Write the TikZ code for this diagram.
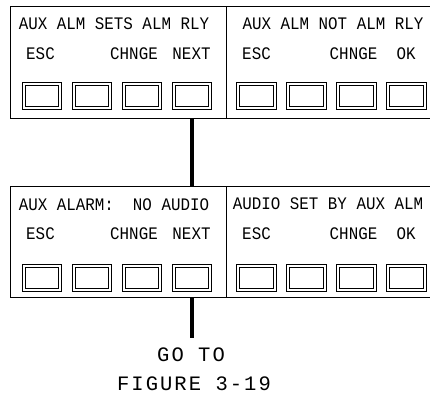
\documentclass[tikz,border=0pt]{standalone}
\usepackage{fontspec}
\setmainfont{Liberation Mono}[FakeStretch=0.9]
\newfontfamily\bigfont{Liberation Mono}[LetterSpace=10]
\begin{document}
\begin{tikzpicture}[x=1pt,y=-1pt,
  panel/.style={draw, line width=1.2pt, inner sep=0pt, anchor=north west,
    minimum width=216.5pt, minimum height=112pt},
  btn/.style={draw, line width=0.7pt, double, double distance=2.3pt,
    inner sep=0pt, minimum width=36.6pt, minimum height=24pt},
  lbl/.style={anchor=base, inner sep=0pt, font=\fontsize{17.6}{17.6}\selectfont},
  big/.style={anchor=base, inner sep=0pt, font=\bigfont\fontsize{20.5}{20.5}\selectfont},
  conn/.style={line width=3.7pt}]
\useasboundingbox (0,0) rectangle (430,402);
% panels
\node[panel] (tl) at (9.5,6) {};
\node[panel, minimum width=212pt] (tr) at (226,6) {};
\node[panel, minimum height=111pt] (bl) at (9.5,186) {};
\node[panel, minimum width=212pt, minimum height=111pt] (br) at (226,186) {};
% buttons
\foreach \i/\x in {1/42,2/92,3/142,4/192}{
  \node[btn] (tlb\i) at (\x,95.8) {};
  \node[btn] (blb\i) at (\x,278.3) {};
}
\foreach \i/\x in {1/256.5,2/306.5,3/356.5,4/406.5}{
  \node[btn] (trb\i) at (\x,95.8) {};
  \node[btn] (brb\i) at (\x,278.3) {};
}
% texts top-left
\node[lbl] (t1) at (114,29.3) {AUX ALM SETS ALM RLY};
\node[lbl] (t1a) at (40.5,59.3) {ESC};
\node[lbl] (t1b) at (134,59.3) {CHNGE};
\node[lbl] (t1c) at (191.5,59.3) {NEXT};
% texts top-right
\node[lbl] (t2) at (333,29.3) {AUX ALM NOT ALM RLY};
\node[lbl] (t2a) at (256.5,59.3) {ESC};
\node[lbl] (t2b) at (353.5,59.3) {CHNGE};
\node[lbl] (t2c) at (406,59.3) {OK};
% texts bottom-left
\node[lbl] (t3) at (114,210) {AUX ALARM:\ \ NO AUDIO};
\node[lbl] (t3a) at (40.5,239.3) {ESC};
\node[lbl] (t3b) at (134,239.3) {CHNGE};
\node[lbl] (t3c) at (191.5,239.3) {NEXT};
% texts bottom-right
\node[lbl] (t4) at (328,209.5) {AUDIO SET BY AUX ALM};
\node[lbl] (t4a) at (256.5,239.8) {ESC};
\node[lbl] (t4b) at (353.5,239.8) {CHNGE};
\node[lbl] (t4c) at (406,239.8) {OK};
% go to
\node[big] (go) at (191,361) {GO TO};
\node[big] (fig) at (194,390.7) {FIGURE 3-19};
% connectors
\coordinate (end) at (192,338);
\draw[conn] (tlb4 |- tl.south) -- (tlb4 |- bl.north);
\draw[conn] (blb4 |- bl.south) -- (end);
\end{tikzpicture}
\end{document}
